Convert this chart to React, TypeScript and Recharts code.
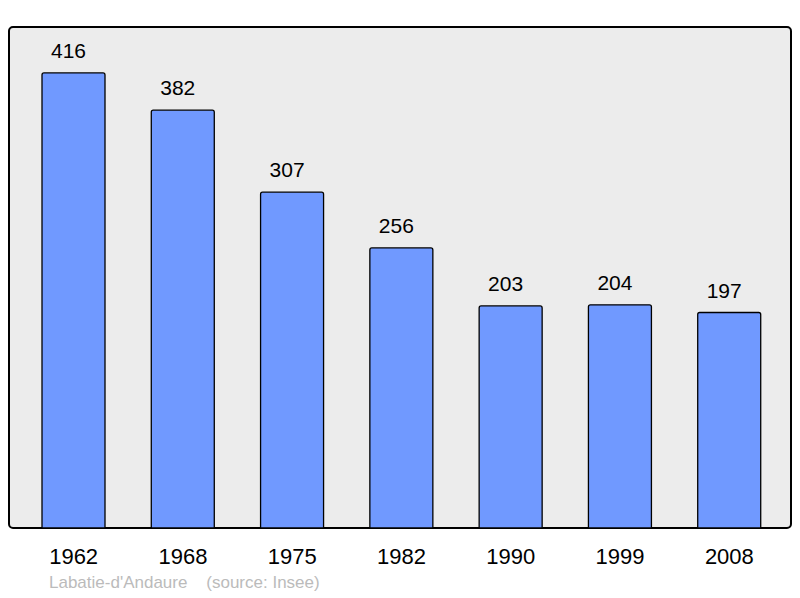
import React from "react";
import { BarChart, Bar, XAxis, YAxis, LabelList, usePlotArea } from "recharts";

const years = ["1962", "1968", "1975", "1982", "1990", "1999", "2008"];
const population = [416, 382, 307, 256, 203, 204, 197];
const data = years.map((y, i) => ({ year: y, pop: population[i] }));

const font = "Liberation Sans, Arial, sans-serif";

const PlotBox = () => {
  const area = usePlotArea();
  if (!area) return null;
  return (
    <rect x={area.x} y={area.y} width={area.width} height={area.height} rx={4} ry={4}
      fill="#ececec" stroke="#000" strokeWidth={2} />
  );
};

export default function App() {
  return (
    <div style={{ position: "absolute", left: 0, top: 0, width: 800, height: 598, background: "#fff" }}>
      <BarChart width={800} height={598} data={data}
        margin={{ top: 27, right: 9, bottom: 40, left: 9 }} barCategoryGap={0}>
        <PlotBox />
        <YAxis hide domain={[0, 458]} />
        <XAxis dataKey="year" axisLine={false} tickLine={false} tickSize={0} tickMargin={20}
          height={30} padding={{ left: 10, right: 7 }} interval={0}
          tick={{ fontSize: 22, fill: "#000", fontFamily: font }} />
        <Bar dataKey="pop" fill="#7099ff" stroke="#000" strokeWidth={1.3} barSize={63}
          radius={[2, 2, 0, 0]} isAnimationActive={false}>
          <LabelList dataKey="pop" position="top" offset={15} dx={-5}
            style={{ fontSize: 21, fill: "#000", fontFamily: font }} />
        </Bar>
      </BarChart>
      <div style={{ position: "absolute", left: 49, top: 573, fontSize: 17, color: "#bbbbbb",
        fontFamily: font, whiteSpace: "pre" }}>
        {"Labatie-d'Andaure    (source: Insee)"}
      </div>
    </div>
  );
}
